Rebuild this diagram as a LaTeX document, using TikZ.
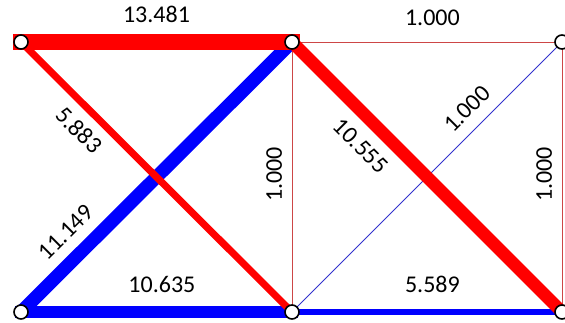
\documentclass[tikz,border=0pt]{standalone}
\usepackage{fontspec}
\setmainfont{Carlito}
\usetikzlibrary{backgrounds}

\definecolor{memberred}{RGB}{205,70,70}
\definecolor{memberblue}{RGB}{50,50,205}

\begin{document}
\begin{tikzpicture}[
    x=1pt, y=1pt,
    font=\fontsize{24}{28}\selectfont,
    weight/.style={inner sep=3pt, outer sep=0pt},
    joint/.style={circle, draw, fill=white, line width=1.6pt, minimum size=14pt, inner sep=0pt},
    flatbar/.style={line cap=rect},
    redbar/.style={draw=red},
    bluebar/.style={draw=blue},
    thinred/.style={draw=memberred, line width=0.8pt},
    thinblue/.style={draw=memberblue, line width=0.8pt}
]
\useasboundingbox (0,0) rectangle (565,322);

% JOINTS
\node[joint] (tl) at (21,280) {};
\node[joint] (tm) at (292,280) {};
\node[joint] (tr) at (562,280) {};
\node[joint] (bl) at (21,10) {};
\node[joint] (bm) at (292,10) {};
\node[joint] (br) at (562,10) {};

\begin{scope}[on background layer]
% THIN MEMBERS
\draw[thinred] (tm.center) -- node[weight, pos=0.52, above=13pt] {1.000} (tr.center);
\draw[thinred] (bm.center) -- node[weight, pos=0.51, sloped, above=7pt] {1.000} (tm.center);
\draw[thinred] (br.center) -- node[weight, pos=0.51, sloped, above=7pt] {1.000} (tr.center);
\draw[thinblue] (bm.center) -- node[weight, pos=0.70, sloped, above=9pt] {1.000} (tr.center);

% BLUE MEMBERS
\draw[bluebar, line width=13.4pt] (bl.center) -- node[weight, pos=0.23, sloped, above=14pt] {11.149} (tm.center);
\draw[bluebar, flatbar, line width=12pt] (bl.center) -- node[weight, pos=0.52, above=16pt] {10.635} (bm.center);
\draw[bluebar, flatbar, line width=6.7pt] (bm.center) -- node[weight, pos=0.52, above=16pt] {5.589} (br.center);

% RED MEMBERS
\draw[redbar, flatbar, line width=16.2pt] (tl.center) -- node[weight, above=16pt] {13.481} (tm.center);
\draw[redbar, line width=7.1pt] (tl.center) -- node[weight, pos=0.27, sloped, below=10pt] {5.883} (bm.center);
\draw[redbar, line width=12.7pt] (tm.center) -- node[weight, pos=0.32, sloped, below=14pt] {10.555} (br.center);
\end{scope}

\end{tikzpicture}
\end{document}
